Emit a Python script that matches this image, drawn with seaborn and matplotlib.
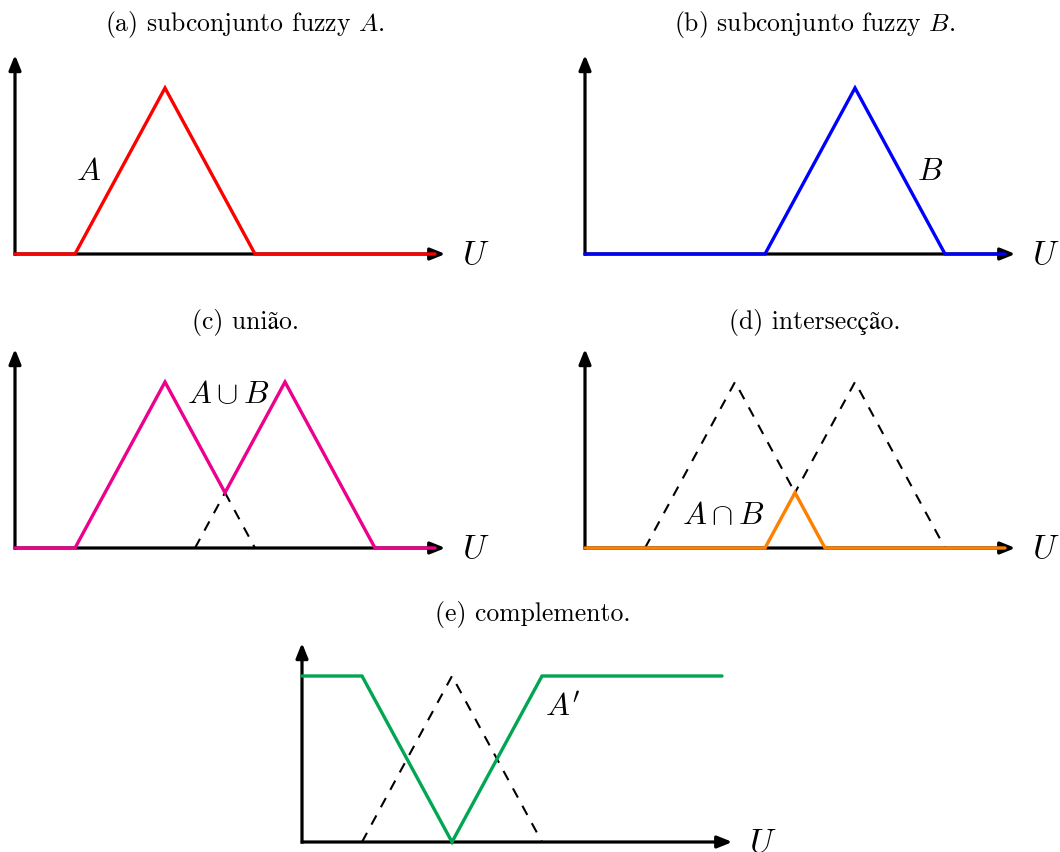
import numpy as np
import pandas as pd
import matplotlib
matplotlib.use("Agg")
import matplotlib.pyplot as plt
import seaborn as sns

# Membership functions on the universe U (breakpoints of piecewise-linear sets)
a_x = [0, 2, 5, 8, 14]
a_y = [0, 0, 1, 0, 0]
b_x = [0, 6, 9, 12, 14]
b_y = [0, 0, 1, 0, 0]
union_x = [0, 2, 5, 7, 9, 12, 14]
union_y = [0, 0, 1, 1 / 3, 1, 0, 0]
inter_x = [0, 6, 7, 8, 14]
inter_y = [0, 0, 1 / 3, 0, 0]
comp_x = [0, 2, 5, 8, 14]
comp_y = [1, 1, 0, 1, 1]

titles = [
    "(a) subconjunto fuzzy $A$.",
    "(b) subconjunto fuzzy $B$.",
    "(c) união.",
    "(d) intersecção.",
    "(e) complemento.",
]

colors = {
    "A": "#FF0000",
    "B": "#0000FF",
    "union": "#EC008C",
    "inter": "#FF8000",
    "comp": "#00A651",
}

sns.set_theme(style="white")
plt.rcParams["font.family"] = ["cmr10", "STIXGeneral", "DejaVu Serif"]
plt.rcParams["mathtext.fontset"] = "cm"
plt.rcParams["axes.formatter.use_mathtext"] = True
plt.rcParams["text.color"] = "black"

W, H = 1060, 852
fig = plt.figure(figsize=(W / 100, H / 100), dpi=100)

XU, YU = 30.0, 166.0          # pixels per unit along U and along membership
XLIM, YLIM = (-0.6, 16.5), (-0.25, 1.3)


def make_axes(ox, oy):
    left = ox + XLIM[0] * XU
    right = ox + XLIM[1] * XU
    bottom = oy - YLIM[0] * YU
    top = oy - YLIM[1] * YU
    ax = fig.add_axes([left / W, 1 - bottom / H, (right - left) / W, (bottom - top) / H])
    ax.set_xlim(*XLIM)
    ax.set_ylim(*YLIM)
    ax.set_axis_off()
    ax.patch.set_alpha(0)
    # axes with arrow heads
    arrow = dict(arrowstyle="-|>,head_length=0.75,head_width=0.3", lw=2.3,
                 color="black", shrinkA=0, shrinkB=0, capstyle="butt")
    ax.annotate("", xy=(14.35, 0), xytext=(-0.04, 0), arrowprops=arrow, zorder=1,
                annotation_clip=False)
    ax.annotate("", xy=(0, 1.2), xytext=(0, -0.01), arrowprops=arrow, zorder=1,
                annotation_clip=False)
    ax.text(15.35, -0.01, "$U$", fontsize=24, ha="center", va="center",
            color="black", clip_on=False)
    return ax


def curve(ax, xs, ys, color, dashed=False):
    df = pd.DataFrame({"u": xs, "mu": ys})
    if dashed:
        sns.lineplot(data=df, x="u", y="mu", ax=ax, sort=False, estimator=None,
                     color="black", lw=1.5, dashes=False, linestyle=(0, (5, 4.5)),
                     zorder=2)
    else:
        sns.lineplot(data=df, x="u", y="mu", ax=ax, sort=False, estimator=None,
                     color=color, lw=2.4, zorder=3, solid_joinstyle="miter")
    ax.set_xlabel("")
    ax.set_ylabel("")


def support(xs, ys):
    # nonzero part of a triangular set, including the feet on the axis
    xs, ys = np.asarray(xs, float), np.asarray(ys, float)
    idx = np.nonzero(ys)[0]
    lo, hi = idx.min() - 1, idx.max() + 1
    return xs[lo:hi + 1], ys[lo:hi + 1]


def segment(xs, ys, x0, x1):
    xs = np.asarray(xs, float)
    ys = np.asarray(ys, float)
    return [x0, x1], [np.interp(x0, xs, ys), np.interp(x1, xs, ys)]


def label(ax, x, y, s):
    ax.text(x, y, s, fontsize=23, ha="center", va="center", color="black")


origins = [(15, 254), (585, 254), (15, 548), (585, 548), (302, 842)]
title_pos = [(245, 25), (815, 25), (245, 322), (815, 322), (533, 614)]

for (tx, ty), t in zip(title_pos, titles):
    fig.text(tx / W, 1 - ty / H, t, fontsize=18.5, ha="center", va="center",
             color="black")

# (a) fuzzy subset A
ax = make_axes(*origins[0])
curve(ax, a_x, a_y, colors["A"])
label(ax, 2.45, 0.49, "$A$")

# (b) fuzzy subset B
ax = make_axes(*origins[1])
curve(ax, b_x, b_y, colors["B"])
label(ax, 11.5, 0.49, "$B$")

# (c) union
ax = make_axes(*origins[2])
sx, sy = segment(a_x, a_y, 7, 8)
curve(ax, sx, sy, None, dashed=True)
sx, sy = segment(b_x, b_y, 6, 7)
curve(ax, sx, sy, None, dashed=True)
curve(ax, union_x, union_y, colors["union"])
label(ax, 7.1, 0.92, r"$A \cup B$")

# (d) intersection
ax = make_axes(*origins[3])
sx, sy = support(a_x, a_y)
curve(ax, sx, sy, None, dashed=True)
sx, sy = support(b_x, b_y)
curve(ax, sx, sy, None, dashed=True)
curve(ax, inter_x, inter_y, colors["inter"])
label(ax, 4.6, 0.19, r"$A \cap B$")

# (e) complement
ax = make_axes(*origins[4])
sx, sy = support(a_x, a_y)
curve(ax, sx, sy, None, dashed=True)
curve(ax, comp_x, comp_y, colors["comp"])
label(ax, 8.7, 0.81, r"$A'$")

fig.savefig("out.png", dpi=100)
